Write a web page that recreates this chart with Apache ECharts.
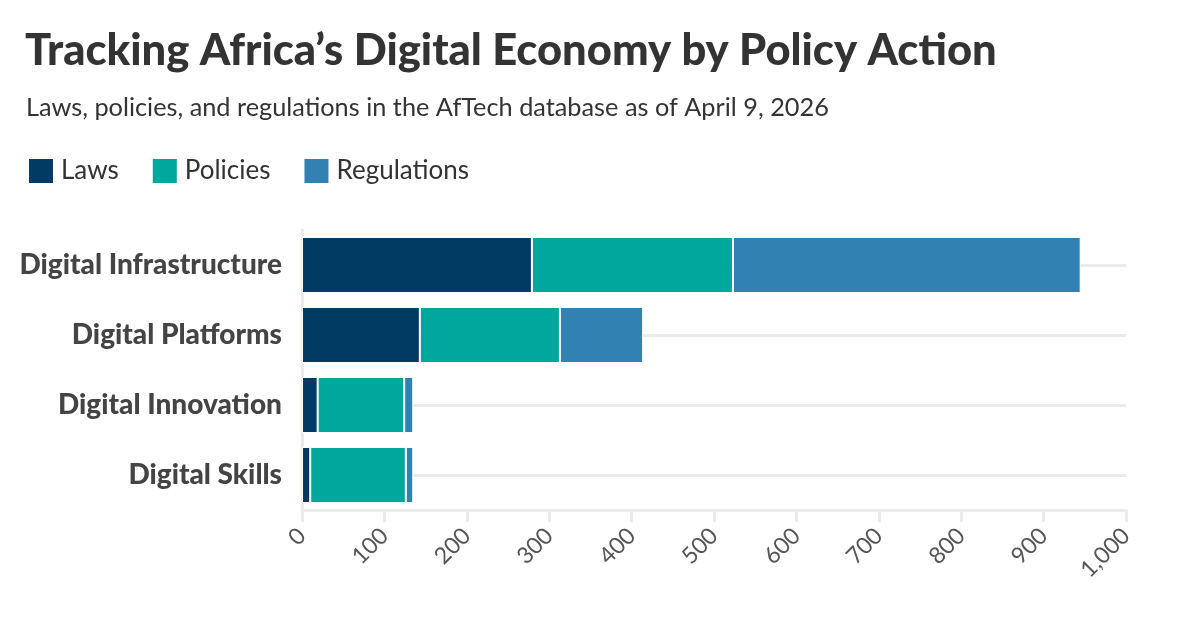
<!DOCTYPE html>
<html lang="en">
<head>
    <meta charset="UTF-8">
    <title>Tracking Africa's Digital Economy</title>
    <script src="https://cdn.jsdelivr.net/npm/echarts@6/dist/echarts.min.js"></script>
    <style>
        html, body { margin: 0; padding: 0; background: #fff; }
        #main { width: 1200px; height: 638px; }
    </style>
</head>
<body>
    <div id="main"></div>
    <script>
        // data
        const categories = ['Digital Infrastructure', 'Digital Platforms', 'Digital Innovation', 'Digital Skills'];
        const laws = [279, 143, 19, 10];
        const policies = [244, 170, 105, 116];
        const regulations = [422, 101, 11, 9];
        const xTicks = [0, 100, 200, 300, 400, 500, 600, 700, 800, 900, 1000];

        const font = 'Lato';
        const myChart = echarts.init(document.getElementById('main'));

        function barSeries(name, data, color) {
            return {
                name: name,
                type: 'bar',
                stack: 'total',
                barCategoryGap: '20%',
                z: 3,
                itemStyle: { color: color, borderColor: '#fff', borderWidth: 1 },
                data: data
            };
        }

        const option = {
            animation: false,
            backgroundColor: '#fff',
            textStyle: { fontFamily: font },
            title: [{
                text: 'Tracking Africa\u2019s Digital Economy by Policy Action',
                left: 20,
                top: 24,
                textStyle: { fontFamily: font, fontSize: 43.5, fontWeight: 900, color: '#333' }
            }, {
                text: 'Laws, policies, and regulations in the AfTech database as of April 9, 2026',
                left: 21,
                top: 90,
                textStyle: { fontFamily: font, fontSize: 25.3, fontWeight: 'normal', color: '#333' }
            }],
            legend: {
                left: 22,
                top: 152,
                icon: 'rect',
                itemWidth: 26,
                itemHeight: 26,
                itemGap: 32,
                textStyle: { fontFamily: font, fontSize: 26, color: '#333', padding: [0, 0, 0, 2] },
                data: ['Laws', 'Policies', 'Regulations']
            },
            grid: {
                left: 302,
                right: 74,
                top: 230,
                height: 280
            },
            xAxis: {
                type: 'value',
                min: 0,
                max: 1000,
                interval: 100,
                axisLine: { show: true, lineStyle: { color: '#ebebeb', width: 3 } },
                axisTick: { show: true, length: 12, lineStyle: { color: '#ebebeb', width: 3 } },
                splitLine: { show: false },
                axisLabel: {
                    rotate: 45,
                    margin: 22,
                    fontFamily: font,
                    fontSize: 23,
                    color: '#555',
                    formatter: function (v) {
                        return xTicks.indexOf(v) >= 0 ? v.toLocaleString('en-US') : '';
                    }
                }
            },
            yAxis: {
                type: 'category',
                inverse: true,
                data: categories,
                axisLine: { show: true, lineStyle: { color: '#ebebeb', width: 3 } },
                axisTick: { show: false },
                splitLine: { show: false },
                axisLabel: {
                    margin: 20,
                    fontFamily: font,
                    fontSize: 28,
                    fontWeight: 900,
                    color: '#444'
                }
            },
            series: [
                {
                    // light guide lines through category centres, under the bars
                    name: 'guides',
                    type: 'line',
                    z: 1,
                    data: [],
                    silent: true,
                    markLine: {
                        z: 1,
                        silent: true,
                        symbol: 'none',
                        label: { show: false },
                        lineStyle: { color: '#ebebeb', width: 3, type: 'solid' },
                        data: categories.map(function (c) { return { yAxis: c }; })
                    }
                },
                barSeries('Laws', laws, '#013a63'),
                barSeries('Policies', policies, '#00a79d'),
                barSeries('Regulations', regulations, '#3182b2')
            ]
        };
        myChart.setOption(option);
    </script>
</body>
</html>
